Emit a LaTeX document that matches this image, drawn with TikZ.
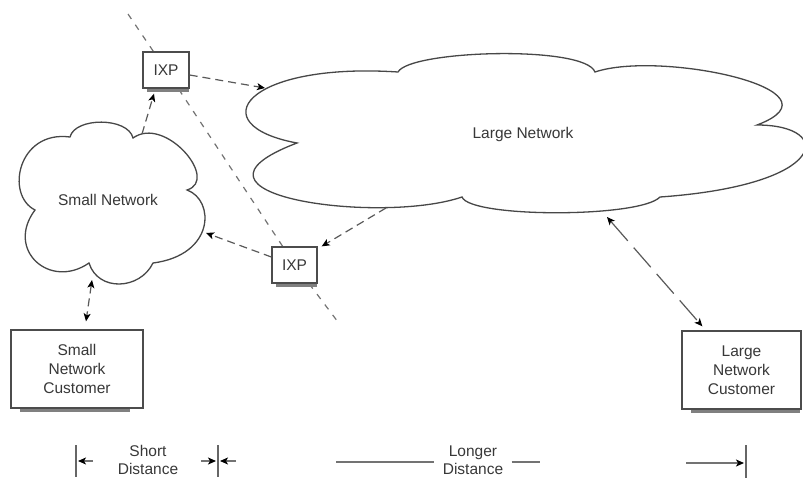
\documentclass[tikz,border=0pt]{standalone}
\usepackage{fontspec}
\setmainfont{Liberation Sans}
\usetikzlibrary{arrows.meta,calc}

\begin{document}
\begin{tikzpicture}[x=1pt,y=-1pt,
  cloudline/.style={draw=black!72, line width=1.3pt, fill=white},
  boxstyle/.style={draw=black!70, line width=1.3pt, fill=white, inner sep=0pt},
  lbl/.style={text=black!78, font=\fontsize{15.5}{19}\selectfont, align=center},
  dimlbl/.style={text=black!78, font=\fontsize{15.5}{18}\selectfont, align=center},
  link/.style={draw=black!65, line width=1.2pt, dash pattern=on 8pt off 5pt},
  longlink/.style={draw=black!65, line width=1.2pt, dash pattern=on 26pt off 9pt},
  onetip/.style={-{Stealth[length=8pt,width=7pt,inset=2pt,black]}},
  twotips/.style={{Stealth[length=8pt,width=7pt,inset=2pt,black]}-{Stealth[length=8pt,width=7pt,inset=2pt,black]}},
  boundary/.style={draw=black!55, line width=1.2pt, dash pattern=on 6pt off 7pt},
  shade/.style={draw=black!50, line width=2.6pt},
  dim/.style={draw=black!55, line width=1.3pt},
  bar/.style={draw=black!60, line width=1.8pt},
]
\useasboundingbox (0,0) rectangle (803,477);

% peering boundary running behind both exchange points
\coordinate (bnd1) at (128,14);
\coordinate (bnd2) at (338,322);
\coordinate (ixp1c) at (166,70);
\coordinate (ixp2c) at (295,265);
\draw[boundary] (bnd1) -- (ixp1c) -- (ixp2c) -- (bnd2);

% ---------- clouds ----------
\path[cloudline] (35,210) .. controls (5,195) and (18,130) .. (70,137)
  .. controls (75,117) and (128,117) .. (133,138)
  .. controls (165,115) and (220,180) .. (187,190)
  .. controls (215,200) and (215,255) .. (153,263)
  .. controls (140,290) and (98,292) .. (89,263)
  .. controls (50,290) and (5,250) .. (35,210) -- cycle;
\node[lbl] (small) at (108,200) {Small Network};

\path[cloudline] (297,143) .. controls (200,125) and (245,62) .. (398,72)
  .. controls (410,50) and (585,45) .. (595,72)
  .. controls (660,50) and (850,90) .. (757,125)
  .. controls (835,125) and (830,185) .. (660,197)
  .. controls (640,218) and (470,218) .. (462,197)
  .. controls (380,225) and (160,195) .. (297,143) -- cycle;
\node[lbl] (large) at (523,134) {Large Network};

% attachment points on the cloud outlines
\coordinate (s1) at (142,134);
\coordinate (s2) at (206,233);
\coordinate (s3) at (92,280);
\coordinate (l1) at (265,88);
\coordinate (l2) at (386,208);
\coordinate (l3) at (607,217);

% ---------- boxes ----------
\node[boxstyle, lbl, minimum width=46pt, minimum height=36pt] (ixp1) at (166,70) {IXP};
\node[boxstyle, lbl, minimum width=45pt, minimum height=36pt] (ixp2) at (294.5,265) {IXP};
\node[boxstyle, lbl, minimum width=132pt, minimum height=78pt] (snc) at (77,369) {Small\\Network\\Customer};
\node[boxstyle, lbl, minimum width=119pt, minimum height=78pt] (lnc) at (741.5,370) {Large\\Network\\Customer};

% shadow strips along the lower edges
\draw[shade] ([xshift=5pt,yshift=-1.8pt]ixp1.south west) -- ([xshift=-1pt,yshift=-1.8pt]ixp1.south east);
\draw[shade] ([xshift=5pt,yshift=-1.8pt]ixp2.south west) -- ([xshift=-1pt,yshift=-1.8pt]ixp2.south east);
\draw[shade] ([xshift=10pt,yshift=-1.8pt]snc.south west) -- ([xshift=-14pt,yshift=-1.8pt]snc.south east);
\draw[shade] ([xshift=10pt,yshift=-1.8pt]lnc.south west) -- ([xshift=-2pt,yshift=-1.8pt]lnc.south east);

% ---------- connectors ----------
\draw[link, onetip] ([yshift=-5pt]ixp1.east) -- (l1);
\draw[link, onetip] (s1) -- ([xshift=-12pt,yshift=-5pt]ixp1.south);
\draw[link, onetip] (l2) -- ([xshift=4pt]ixp2.north east);
\draw[link, onetip] ([yshift=8pt]ixp2.west) -- (s2);
\draw[link, twotips] (s3) -- ([xshift=9pt,yshift=8pt]snc.north);
\draw[longlink, twotips] (l3) -- ([xshift=21pt,yshift=4pt]lnc.north west);

% ---------- distance scale ----------
\coordinate (barA) at (76,461);
\coordinate (barB) at (218,461);
\coordinate (barC) at (746,463);
\draw[bar] ([yshift=16pt]barA) -- ([yshift=-16pt]barA);
\draw[bar] ([yshift=16pt]barB) -- ([yshift=-16pt]barB);
\draw[bar] ([yshift=18pt]barC) -- ([yshift=-15pt]barC);

\node[dimlbl] (short) at (148,460) {Short\\Distance};
\node[dimlbl] (longer) at (473,460) {Longer\\Distance};

\draw[dim, onetip] ([xshift=17pt]barA) -- ([xshift=2pt]barA);
\draw[dim, onetip] ([xshift=-17pt]barB) -- ([xshift=-2pt]barB);
\draw[dim, onetip] ([xshift=18pt]barB) -- ([xshift=2pt]barB);
\draw[dim] ([xshift=-103pt,yshift=-2pt]longer.west) -- ([xshift=-5pt,yshift=-2pt]longer.west);
\draw[dim] ([xshift=5pt,yshift=-2pt]longer.east) -- ([xshift=33pt,yshift=-2pt]longer.east);
\draw[dim, onetip] ([xshift=-60pt]barC) -- ([xshift=-2pt]barC);
\end{tikzpicture}
\end{document}
